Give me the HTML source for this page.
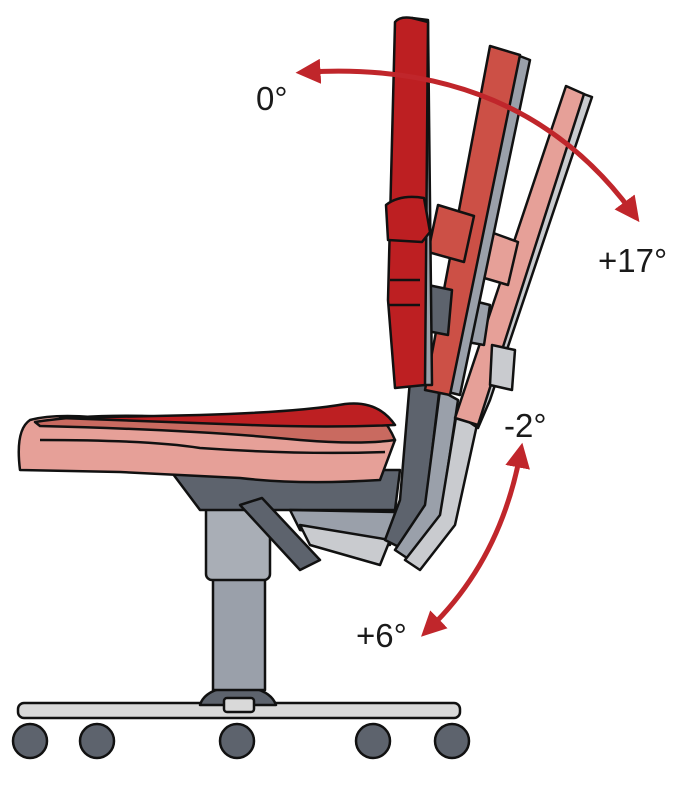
<!DOCTYPE html>
<html><head><style>
html,body{margin:0;padding:0;background:#fff;width:682px;height:800px;overflow:hidden}
text{font-family:"Liberation Sans",sans-serif;font-size:33px;fill:#1a1a1a}
</style></head><body>
<svg width="682" height="800" viewBox="0 0 682 800" xmlns="http://www.w3.org/2000/svg" stroke="#111" stroke-width="2.5" stroke-linejoin="round">
<defs>
<marker id="ah" viewBox="0 0 10 10" refX="5" refY="5" markerWidth="5" markerHeight="5" orient="auto-start-reverse"><path d="M0,0 L10,5 L0,10 z" fill="#c0262b" stroke="none"/></marker>
</defs>
<!-- base -->
<rect x="18" y="703" width="442" height="15" rx="6" fill="#d9d9d9"/>
<path d="M200,705 Q205,688 238,686 Q270,688 276,705 Z" fill="#5d636d"/>
<rect x="224" y="698" width="30" height="14" rx="3" fill="#d9d9d9"/>
<g fill="#5d636d">
<circle cx="30" cy="741" r="17"/><circle cx="97" cy="741" r="17"/><circle cx="237" cy="741" r="17"/><circle cx="373" cy="741" r="17"/><circle cx="452" cy="741" r="17"/>
</g>
<!-- column -->
<rect x="213" y="575" width="52" height="115" fill="#9aa0aa"/>
<rect x="206" y="505" width="64" height="75" rx="6" fill="#a9aeb6"/>
<!-- mechanism -->
<path d="M170,470 L400,470 L395,510 L200,510 Z" fill="#5d636d"/>
<path d="M240,505 L262,498 L320,560 L300,570 Z" fill="#5d636d"/>
<path d="M290,510 L395,512 L390,545 L300,530 Z" fill="#9aa0aa"/>
<path d="M300,525 L390,540 L380,565 L310,545 Z" fill="#c9cbcf"/>
<!-- back brackets -->
<path d="M410,380 L440,385 L425,510 L405,550 L385,540 L400,500 Z" fill="#5d636d"/>
<path d="M440,390 L458,400 L440,520 L410,560 L395,550 L425,505 Z" fill="#9aa0aa"/>
<path d="M458,405 L478,420 L455,525 L420,570 L405,560 L440,515 Z" fill="#c9cbcf"/>
<!-- light back -->
<path d="M578,92 L592,97 L490,400 L478,428 L466,420 Z" fill="#c9cbcf"/>
<path d="M566,86 L584,94 L478,425 L455,418 Z" fill="#e6a098"/>
<path d="M485,230 L518,242 L508,285 L474,275 Z" fill="#e6a098"/>
<path d="M492,345 L515,350 L512,390 L490,385 Z" fill="#c9cbcf"/>
<path d="M462,298 L490,305 L484,345 L456,340 Z" fill="#9aa0aa"/>
<!-- medium back -->
<path d="M517,55 L530,60 L460,395 L448,392 Z" fill="#9aa0aa"/>
<path d="M490,46 L520,55 L450,395 L425,390 Z" fill="#cc5046"/>
<path d="M438,205 L474,216 L464,262 L428,252 Z" fill="#cc5046"/>
<path d="M428,285 L452,290 L448,335 L422,330 Z" fill="#5d636d"/>
<!-- dark back -->
<path d="M412,18 L428,20 L432,385 L418,385 Z" fill="#9aa0aa"/>
<path d="M395,22 Q400,16 412,18 L428,22 L425,385 L395,388 L388,300 Z" fill="#bd1f22"/>
<path d="M386,205 Q400,194 424,198 L430,232 L422,242 L388,240 Z" fill="#bd1f22"/>
<line x1="390" y1="280" x2="420" y2="280"/><line x1="388" y1="305" x2="420" y2="305"/>
<!-- seat -->
<path d="M20,470 Q15,430 30,420 Q60,412 120,420 Q220,428 300,420 Q370,408 395,440 L380,480 Q300,485 240,478 L120,472 Z" fill="#e6a098"/>
<path d="M35,422 Q100,412 190,418 L280,422 Q320,420 345,408 Q378,400 395,440 Q360,445 300,440 Q200,430 40,426 Z" fill="#c96a60"/>
<path d="M60,418 L200,415 Q300,412 345,404 Q378,400 395,425 Q330,428 250,425 Z" fill="#bd1f22"/>
<path d="M40,440 Q150,440 200,448 Q300,455 385,452" fill="none"/>
<!-- arrows -->
<path d="M308,72 Q520,60 632,212" fill="none" stroke="#c0262b" stroke-width="5" marker-start="url(#ah)" marker-end="url(#ah)"/>
<path d="M520,455 Q500,560 430,628" fill="none" stroke="#c0262b" stroke-width="5" marker-start="url(#ah)" marker-end="url(#ah)"/>
<g stroke="none">
<text x="256" y="110">0°</text>
<text x="598" y="272">+17°</text>
<text x="504" y="437">-2°</text>
<text x="356" y="647">+6°</text>
</g>
</svg>
</body></html>
